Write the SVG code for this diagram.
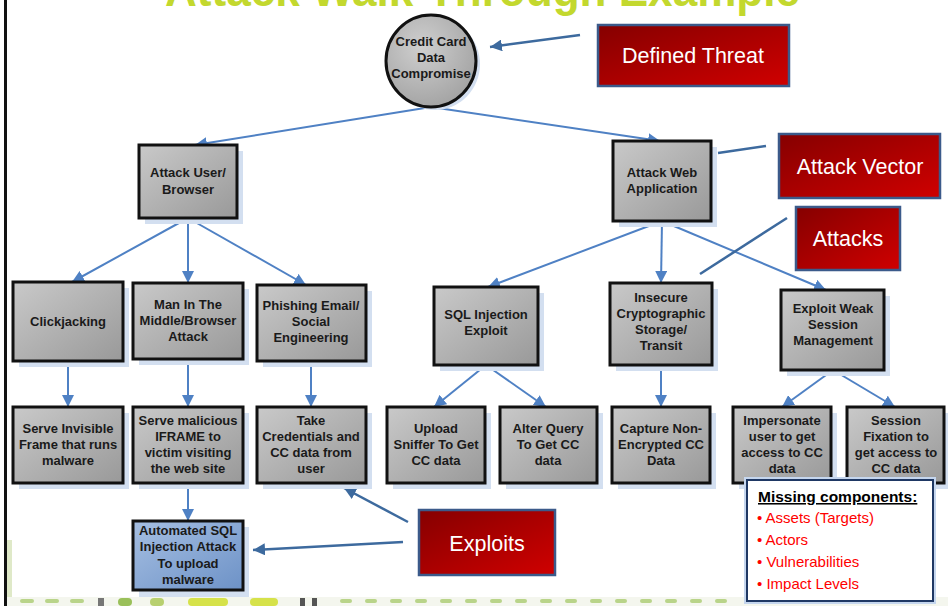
<svg xmlns="http://www.w3.org/2000/svg" width="948" height="606" viewBox="0 0 948 606">
<defs>
<linearGradient id="gGray" x1="0" y1="0" x2="1" y2="1"><stop offset="0" stop-color="#c9c9c9"/><stop offset="1" stop-color="#999"/></linearGradient>
<radialGradient id="gCirc" cx="0.4" cy="0.35" r="0.7"><stop offset="0" stop-color="#cfcfcf"/><stop offset="1" stop-color="#a2a2a2"/></radialGradient>
<linearGradient id="gBlue" x1="0" y1="0" x2="1" y2="1"><stop offset="0" stop-color="#a6bfe2"/><stop offset="1" stop-color="#6d92c7"/></linearGradient>
<linearGradient id="gRed" x1="0" y1="0" x2="1" y2="1"><stop offset="0" stop-color="#850000"/><stop offset="1" stop-color="#d00000"/></linearGradient>
<marker id="ah" markerUnits="userSpaceOnUse" markerWidth="13" markerHeight="12" refX="12" refY="6" orient="auto"><path d="M0,0 L12,6 L0,12 z" fill="#4f81c4"/></marker>
<marker id="ahd" markerUnits="userSpaceOnUse" markerWidth="13" markerHeight="12" refX="12" refY="6" orient="auto"><path d="M0,0 L12,6 L0,12 z" fill="#3d6a9e"/></marker>
</defs>
<style>
.box{fill:url(#gGray);stroke:#111;stroke-width:3}
.sh{fill:#d3dff0}
.t{font-family:"Liberation Sans",Arial,sans-serif;font-weight:bold;font-size:13px;fill:#1a1a1a;text-anchor:middle}
.c{stroke:#4f81c4;stroke-width:2;fill:none;marker-end:url(#ah)}
.cd{stroke:#3d6a9e;stroke-width:2.5;fill:none}
.red{fill:url(#gRed);stroke:#3b5a8a;stroke-width:2.5}
.rt{font-family:"Liberation Sans",Arial,sans-serif;font-size:21.5px;fill:#fff;text-anchor:middle}
.lg{font-family:"Liberation Sans",Arial,sans-serif;font-size:15px;fill:#ff0000}
</style>
<rect width="948" height="606" fill="#fff"/>
<rect x="4" y="0" width="3" height="606" fill="#111"/>
<rect x="7" y="540" width="5" height="57" fill="#dfe9c8"/>
<g id="bottom-strip">
<rect x="7" y="597" width="941" height="9" fill="#f4f6ee"/>
<g fill="#b9d48a">
<rect x="20" y="599" width="14" height="4" rx="2"/><rect x="45" y="599" width="14" height="4" rx="2"/><rect x="70" y="599" width="14" height="4" rx="2"/>
<rect x="340" y="599" width="12" height="4" rx="2"/><rect x="365" y="599" width="12" height="4" rx="2"/><rect x="390" y="599" width="12" height="4" rx="2"/><rect x="415" y="599" width="12" height="4" rx="2"/><rect x="440" y="599" width="12" height="4" rx="2"/><rect x="465" y="599" width="12" height="4" rx="2"/><rect x="490" y="599" width="12" height="4" rx="2"/><rect x="515" y="599" width="12" height="4" rx="2"/><rect x="540" y="599" width="12" height="4" rx="2"/><rect x="565" y="599" width="12" height="4" rx="2"/><rect x="590" y="599" width="12" height="4" rx="2"/><rect x="615" y="599" width="12" height="4" rx="2"/><rect x="640" y="599" width="12" height="4" rx="2"/><rect x="665" y="599" width="12" height="4" rx="2"/><rect x="690" y="599" width="12" height="4" rx="2"/><rect x="715" y="599" width="12" height="4" rx="2"/>
</g>
<rect x="98" y="598" width="6" height="8" fill="#777"/><rect x="118" y="598" width="14" height="8" rx="4" fill="#9ac05a"/><rect x="150" y="598" width="14" height="8" rx="4" fill="#b8d070"/><rect x="188" y="598" width="40" height="8" rx="4" fill="#d6e24a"/><rect x="250" y="598" width="28" height="8" rx="4" fill="#d6e24a"/><rect x="300" y="598" width="5" height="8" fill="#555"/><rect x="312" y="598" width="5" height="8" fill="#555"/>
</g>
<text x="165" y="6" textLength="635" lengthAdjust="spacingAndGlyphs" style="font-family:'Liberation Sans',Arial,sans-serif;font-weight:bold;font-size:46px;fill:#c3d82e">Attack Walk-Through  Example</text>

<g id="connectors">
<path class="c" d="M431,107 L195,145"/>
<path class="c" d="M431,107 L660,141"/>
<path class="c" d="M188,218 L72,282"/>
<path class="c" d="M188,218 L188,283"/>
<path class="c" d="M188,218 L306,285"/>
<path class="c" d="M662,221 L488,287"/>
<path class="c" d="M662,221 L661,283"/>
<path class="c" d="M662,221 L826,290"/>
<path class="c" d="M68,361 L68,407"/>
<path class="c" d="M188,359 L188,407"/>
<path class="c" d="M311,361 L311,407"/>
<path class="c" d="M486,365 L434,407"/>
<path class="c" d="M486,365 L546,407"/>
<path class="c" d="M661,365 L661,407"/>
<path class="c" d="M833,370 L782,407"/>
<path class="c" d="M833,370 L895,407"/>
<path class="c" d="M188,483 L188,521"/>
<path class="cd" d="M580,35 L490,47" style="marker-end:url(#ahd)"/>
<path class="cd" d="M766,146 L718,153"/>
<path class="cd" d="M787,218 L700,274"/>
<path class="cd" d="M408,522 L344,488" style="marker-end:url(#ahd)"/>
<path class="cd" d="M403,542 L253,550" style="marker-end:url(#ahd)"/>
</g>

<g id="n-threat">
<ellipse cx="435" cy="64" rx="45" ry="46" fill="#d3dff0"/>
<ellipse cx="431" cy="61" rx="45" ry="46" fill="url(#gCirc)" stroke="#111" stroke-width="3"/>
<text class="t" x="431" y="46">Credit Card</text><text class="t" x="431" y="62">Data</text><text class="t" x="431" y="78">Compromise</text>
</g>
<g id="n-user"><rect class="sh" x="145" y="151" width="98" height="73"/><rect class="box" x="139" y="145" width="98" height="73"/>
<text class="t" x="188" y="176.5">Attack User/</text><text class="t" x="188" y="193.5">Browser</text></g>
<g id="n-web"><rect class="sh" x="619" y="147" width="98" height="80"/><rect class="box" x="613" y="141" width="98" height="80"/>
<text class="t" x="662" y="176.5">Attack Web</text><text class="t" x="662" y="192.5">Application</text></g>

<g id="n-click"><rect class="sh" x="19" y="288" width="110" height="79"/><rect class="box" x="13" y="282" width="110" height="79"/>
<text class="t" x="68" y="325.5">Clickjacking</text></g>
<g id="n-mitm"><rect class="sh" x="139" y="289" width="110" height="76"/><rect class="box" x="133" y="283" width="110" height="76"/>
<text class="t" x="188" y="308.5">Man In The</text><text class="t" x="188" y="324.5">Middle/Browser</text><text class="t" x="188" y="340.5">Attack</text></g>
<g id="n-phish"><rect class="sh" x="263" y="291" width="109" height="76"/><rect class="box" x="257" y="285" width="109" height="76"/>
<text class="t" x="311" y="309.5">Phishing Email/</text><text class="t" x="311" y="325.5">Social</text><text class="t" x="311" y="341.5">Engineering</text></g>
<g id="n-sql"><rect class="sh" x="440" y="293" width="104" height="78"/><rect class="box" x="434" y="287" width="104" height="78"/>
<text class="t" x="486" y="318.5">SQL Injection</text><text class="t" x="486" y="334.5">Exploit</text></g>
<g id="n-crypto"><rect class="sh" x="616" y="289" width="102" height="82"/><rect class="box" x="610" y="283" width="102" height="82"/>
<text class="t" x="661" y="301.5">Insecure</text><text class="t" x="661" y="317.5">Cryptographic</text><text class="t" x="661" y="333.5">Storage/</text><text class="t" x="661" y="349.5">Transit</text></g>
<g id="n-session"><rect class="sh" x="787" y="296" width="103" height="80"/><rect class="box" x="781" y="290" width="103" height="80"/>
<text class="t" x="833" y="312.5">Exploit Weak</text><text class="t" x="833" y="328.5">Session</text><text class="t" x="833" y="344.5">Management</text></g>

<g id="n-invisible"><rect class="sh" x="19" y="413" width="110" height="76"/><rect class="box" x="13" y="407" width="110" height="76"/>
<text class="t" x="68" y="432.5">Serve Invisible</text><text class="t" x="68" y="448.5">Frame that runs</text><text class="t" x="68" y="464.5">malware</text></g>
<g id="n-iframe"><rect class="sh" x="139" y="413" width="110" height="76"/><rect class="box" x="133" y="407" width="110" height="76"/>
<text class="t" x="188" y="424.5">Serve malicious</text><text class="t" x="188" y="440.5">IFRAME to</text><text class="t" x="188" y="456.5">victim visiting</text><text class="t" x="188" y="472.5">the web site</text></g>
<g id="n-creds"><rect class="sh" x="263" y="413" width="109" height="76"/><rect class="box" x="257" y="407" width="109" height="76"/>
<text class="t" x="311" y="424.5">Take</text><text class="t" x="311" y="440.5">Credentials and</text><text class="t" x="311" y="456.5">CC data from</text><text class="t" x="311" y="472.5">user</text></g>
<g id="n-sniffer"><rect class="sh" x="393" y="413" width="98" height="76"/><rect class="box" x="387" y="407" width="98" height="76"/>
<text class="t" x="436" y="432.5">Upload</text><text class="t" x="436" y="448.5">Sniffer To Get</text><text class="t" x="436" y="464.5">CC data</text></g>
<g id="n-alter"><rect class="sh" x="506" y="413" width="97" height="76"/><rect class="box" x="500" y="407" width="97" height="76"/>
<text class="t" x="548" y="432.5">Alter Query</text><text class="t" x="548" y="448.5">To Get CC</text><text class="t" x="548" y="464.5">data</text></g>
<g id="n-capture"><rect class="sh" x="618" y="413" width="98" height="76"/><rect class="box" x="612" y="407" width="98" height="76"/>
<text class="t" x="661" y="432.5">Capture Non-</text><text class="t" x="661" y="448.5">Encrypted CC</text><text class="t" x="661" y="464.5">Data</text></g>
<g id="n-impersonate"><rect class="sh" x="739" y="413" width="98" height="76"/><rect class="box" x="733" y="407" width="98" height="76"/>
<text class="t" x="782" y="424.5">Impersonate</text><text class="t" x="782" y="440.5">user to get</text><text class="t" x="782" y="456.5">access to CC</text><text class="t" x="782" y="472.5">data</text></g>
<g id="n-fixation"><rect class="sh" x="853" y="413" width="95" height="76"/><rect class="box" x="847" y="407" width="97" height="76"/>
<text class="t" x="896" y="424.5">Session</text><text class="t" x="896" y="440.5">Fixation to</text><text class="t" x="896" y="456.5">get access to</text><text class="t" x="896" y="472.5">CC data</text></g>
<g id="n-automated"><rect class="sh" x="139" y="527" width="110" height="70"/><rect x="133" y="521" width="110" height="69" fill="url(#gBlue)" stroke="#111" stroke-width="3"/>
<text class="t" x="188" y="534.5">Automated SQL</text><text class="t" x="188" y="551">Injection Attack</text><text class="t" x="188" y="567.5">To upload</text><text class="t" x="188" y="583.5">malware</text></g>

<g id="l-threat"><rect class="red" x="598" y="25" width="191" height="61"/><text class="rt" x="693" y="63">Defined Threat</text></g>
<g id="l-vector"><rect class="red" x="779" y="134" width="161" height="64"/><text class="rt" x="860" y="174">Attack Vector</text></g>
<g id="l-attacks"><rect class="red" x="796" y="207" width="104" height="63"/><text class="rt" x="848" y="246">Attacks</text></g>
<g id="l-exploits"><rect class="red" x="419" y="510" width="136" height="65"/><text class="rt" x="487" y="551">Exploits</text></g>

<g id="legend">
<rect x="747" y="480" width="186" height="121" fill="#fff" stroke="#c5d6ee" stroke-width="6"/>
<rect x="747" y="480" width="186" height="121" fill="#fff" stroke="#1f3864" stroke-width="2"/>
<text x="758" y="502" style="font-family:'Liberation Sans',Arial,sans-serif;font-weight:bold;font-size:15.5px;fill:#000;text-decoration:underline">Missing components:</text>
<text class="lg" x="757" y="523">• Assets (Targets)</text>
<text class="lg" x="757" y="545">• Actors</text>
<text class="lg" x="757" y="567">• Vulnerabilities</text>
<text class="lg" x="757" y="589">• Impact Levels</text>
</g>
</svg>
